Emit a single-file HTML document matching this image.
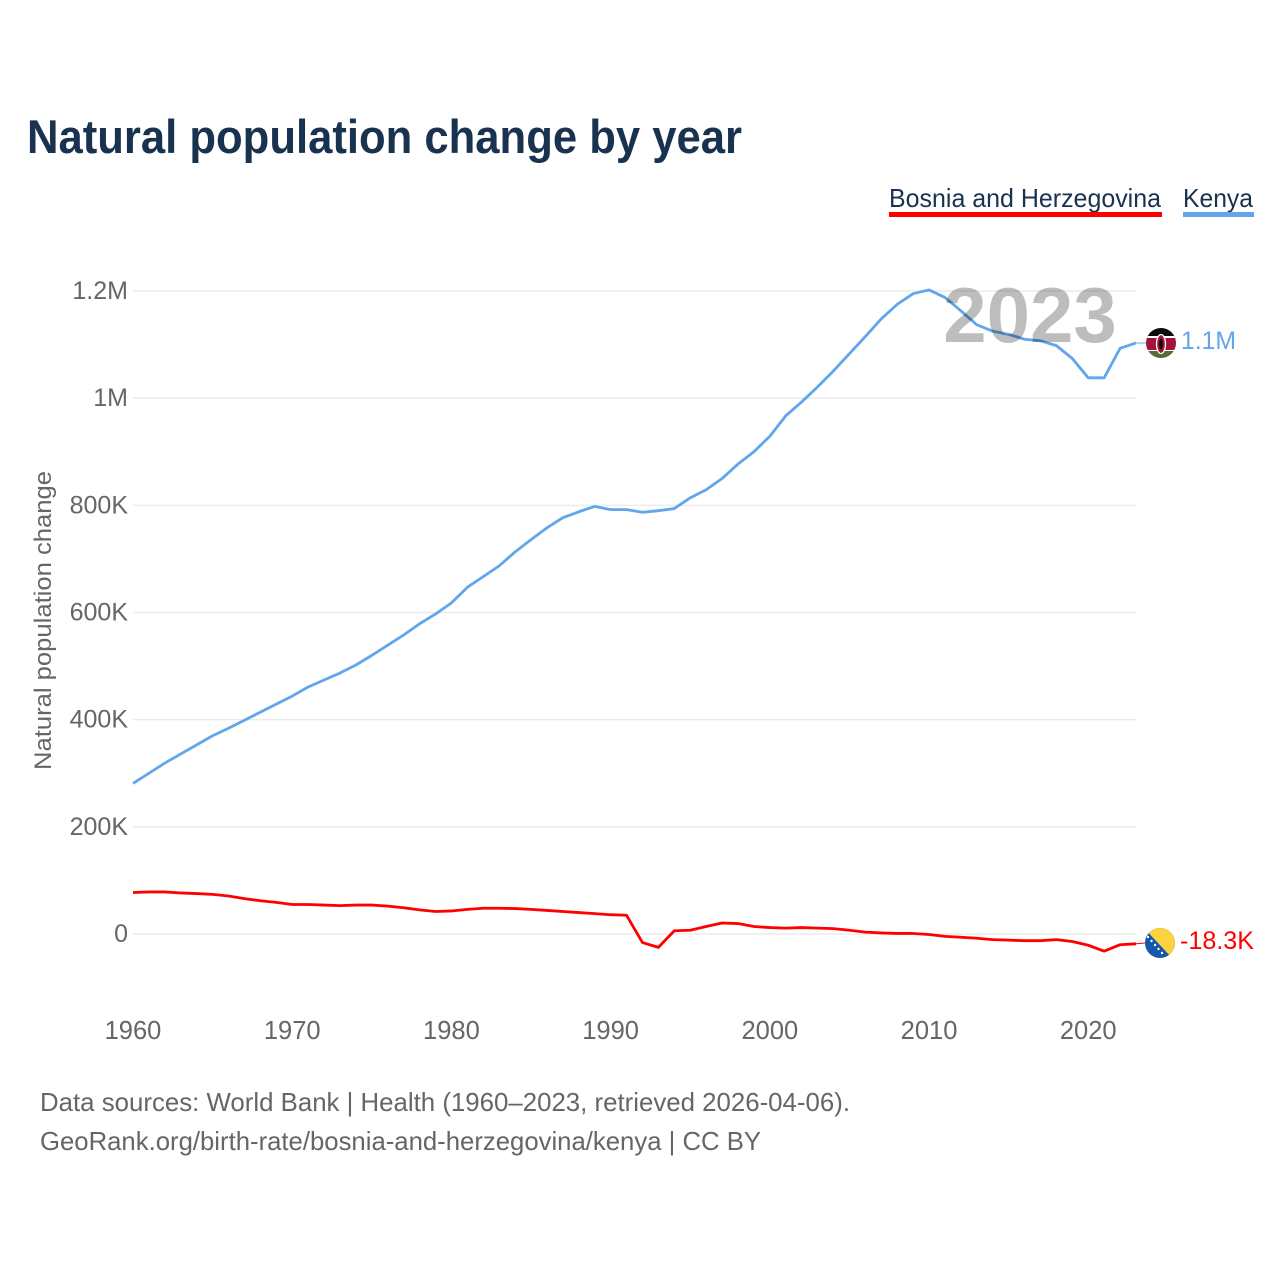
<!DOCTYPE html>
<html lang="en">
<head>
<meta charset="utf-8">
<title>Natural population change by year</title>
<style>
html,body{margin:0;padding:0;background:#fff;width:1280px;height:1280px;overflow:hidden}
svg{display:block}
text{font-family:"Liberation Sans",sans-serif}
</style>
</head>
<body>
<svg id="chart" xmlns="http://www.w3.org/2000/svg" width="1280" height="1280" viewBox="0 0 1280 1280">
  <defs>
    <clipPath id="clip-kenya"><circle cx="1161" cy="343" r="15"/></clipPath>
    <clipPath id="clip-bosnia"><circle cx="1160" cy="943" r="15"/></clipPath>
  </defs>
  <rect width="1280" height="1280" fill="#fff"/>
  <text x="27" y="153" font-size="47" font-weight="700" fill="#18324f" textLength="715" lengthAdjust="spacingAndGlyphs">Natural population change by year</text>

  <g>
    <g>
      <text x="889" y="207" font-size="26" fill="#18324f" textLength="272" lengthAdjust="spacingAndGlyphs">Bosnia and Herzegovina</text>
      <rect x="889" y="212" width="273" height="5" fill="#ff0000"/>
    </g>
    <g>
      <text x="1183" y="207" font-size="26" fill="#18324f" textLength="70" lengthAdjust="spacingAndGlyphs">Kenya</text>
      <rect x="1183" y="212" width="71" height="5" fill="#61a5ea"/>
    </g>
  </g>

  <g id="grid"></g>
  <g id="y-ticks"></g>
  <g id="x-ticks"></g>
  <text transform="translate(51 620.5) rotate(-90)" text-anchor="middle" font-size="24" fill="#666" textLength="299" lengthAdjust="spacingAndGlyphs">Natural population change</text>

  <g id="series"></g>

  <text x="1030" y="342" text-anchor="middle" font-size="78" font-weight="700" fill="#000" fill-opacity="0.26">2023</text>

  <g clip-path="url(#clip-kenya)">
    <rect x="1146" y="328" width="30" height="9" fill="#0b0b0b"/>
    <rect x="1146" y="336" width="30" height="16" fill="#fff"/>
    <rect x="1146" y="338" width="30" height="12" fill="#a3123a"/>
    <rect x="1146" y="351" width="30" height="7" fill="#4f6f35"/>
    <ellipse cx="1161" cy="344" rx="4.5" ry="9.5" fill="#a3123a" stroke="#fff" stroke-width="1.3"/>
    <ellipse cx="1161" cy="344" rx="1.8" ry="5.5" fill="#0b0b0b"/>
  </g>
  <g clip-path="url(#clip-bosnia)">
    <rect x="1145" y="928" width="30" height="30" fill="#1557ad"/>
    <polygon points="1144,928 1175,928 1175,958 1172,958" fill="#fdd23f"/>
    <g fill="#fff">
      <circle cx="1148" cy="937" r="1.2"/>
      <circle cx="1151.500" cy="941" r="1.2"/>
      <circle cx="1155" cy="945" r="1.2"/>
      <circle cx="1158.500" cy="949" r="1.2"/>
      <circle cx="1162" cy="953" r="1.2"/>
    </g>
  </g>

  <text x="1181" y="349" font-size="25" fill="#61a5ea" textLength="55" lengthAdjust="spacingAndGlyphs">1.1M</text>
  <text x="1180" y="949" font-size="25" fill="#ff0000" textLength="74" lengthAdjust="spacingAndGlyphs">-18.3K</text>

  <g>
    <text x="40" y="1111" font-size="26" fill="#666" textLength="810" lengthAdjust="spacingAndGlyphs">Data sources: World Bank | Health (1960–2023, retrieved 2026-04-06).</text>
    <text x="40" y="1150" font-size="26" fill="#666" textLength="721" lengthAdjust="spacingAndGlyphs">GeoRank.org/birth-rate/bosnia-and-herzegovina/kenya | CC BY</text>
  </g>
</svg>
<script>
const startYear = 1960;
const kenyaValues = [281,300,319,336,353,370,384,399,414,429,444,461,474,487,502,520,539,558,579,597,618,647,667,687,713,736,758,777,788,798,792,792,787,790,794,814,829,850,877,900,929,967,993,1021,1051,1083,1115,1148,1175,1195,1202,1188,1163,1137,1125,1119,1110,1107,1098,1074,1038,1038,1093,1103];
const bosniaValues = [77.5,78.5,78.5,76.6,75.5,74,71,66,62,59,55,55,54,53,54,54,52,49,45,42,43,46,48,48,47.5,46,44,42,40,38,36,35,-16,-25,6,7,14,20.5,19.5,14,12,11,12,11,10,7,3.5,2,1,1,-1,-4.5,-6,-8,-10.5,-11.5,-12.5,-12.5,-10.5,-14,-21,-32,-20,-18.3];
const yTickValues = [0,200,400,600,800,1000,1200];
const yTickLabels = ["0","200K","400K","600K","800K","1M","1.2M"];
const xTickYears = [1960,1970,1980,1990,2000,2010,2020];

const NS = "http://www.w3.org/2000/svg";
function xScale(year){ return 133 + (year - 1960) * (1136 - 133) / 63; }
function yScale(v){ return 934 - v * 643 / 1200; }
function make(tag, parentId, attrs, txt){
  const el = document.createElementNS(NS, tag);
  for (const k in attrs) el.setAttribute(k, attrs[k]);
  if (txt !== undefined) el.textContent = txt;
  document.getElementById(parentId).appendChild(el);
  return el;
}
yTickValues.forEach(function(v, i){
  const line = make("line", "grid", {x1:133, x2:1136, y1:yScale(v), y2:yScale(v), stroke:"#ebebeb", "stroke-width":1.5});
  
  
  const t = make("text", "y-ticks", {x:128, y:yScale(v)+8, "text-anchor":"end", "font-size":25, fill:"#666"}, yTickLabels[i]);
  
  
});
xTickYears.forEach(function(y){
  const t = make("text", "x-ticks", {x:xScale(y), y:1039, "text-anchor":"middle", "font-size":25.5, fill:"#666"}, String(y));
  
  
});
function drawSeries(values, color, flagX, flagY){
  const pts = values.map(function(v, i){ return xScale(startYear + i).toFixed(2) + "," + yScale(v).toFixed(2); }).join(" ");
  const last = values[values.length - 1];
  const conn = make("line", "series", {x1:xScale(startYear + values.length - 1), y1:yScale(last), x2:flagX, y2:flagY, stroke:color, "stroke-width":1});
  
  
  const line = make("polyline", "series", {points:pts, fill:"none", stroke:color, "stroke-width":2.8, "stroke-linejoin":"round"});
  return line;
}
const kenyaLine = drawSeries(kenyaValues, "#61a5ea", 1146, 343);


const bosniaLine = drawSeries(bosniaValues, "#ff0000", 1145, 943);


</script>
</body>
</html>
